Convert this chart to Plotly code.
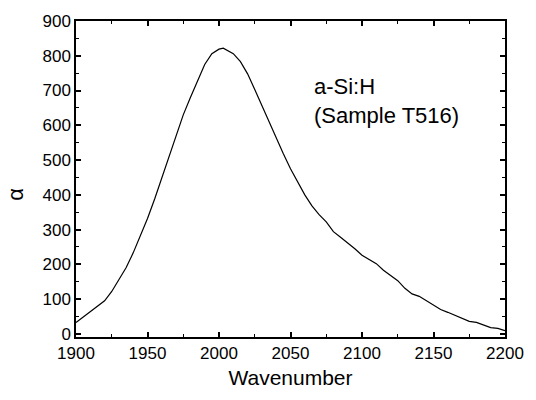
import plotly.graph_objects as go

wavenumber = [1900, 1905, 1910, 1915, 1920, 1925, 1930, 1935, 1940, 1945,
              1950, 1955, 1960, 1965, 1970, 1975, 1980, 1985, 1990, 1995,
              2000, 2003, 2005, 2010, 2015, 2020, 2025, 2030, 2035, 2040,
              2045, 2050, 2055, 2060, 2065, 2070, 2075, 2080, 2085, 2090,
              2095, 2100, 2105, 2110, 2115, 2120, 2125, 2130, 2135, 2140,
              2145, 2150, 2155, 2160, 2165, 2170, 2175, 2180, 2185, 2190,
              2195, 2200]
alpha = [33, 48, 63, 78, 95, 122, 155, 190, 233, 280,
         332, 388, 447, 508, 571, 630, 680, 728, 775, 806,
         819, 822, 818, 806, 783, 748, 703, 656, 607, 560,
         518, 475, 436, 400, 368, 343, 322, 294, 278, 262,
         245, 226, 214, 202, 183, 168, 153, 131, 115, 108,
         95, 82, 70, 62, 53, 44, 36, 33, 25, 18,
         16, 9]

x_ticks = [1900, 1950, 2000, 2050, 2100, 2150, 2200]
y_ticks = [0, 100, 200, 300, 400, 500, 600, 700, 800, 900]

FONT = "Liberation Sans, Arial, sans-serif"

fig = go.Figure()
fig.add_trace(go.Scatter(x=wavenumber, y=alpha, mode="lines",
                         line=dict(color="black", width=1.2),
                         showlegend=False, hoverinfo="skip"))

axis_common = dict(
    showline=True, linecolor="black", linewidth=1.5, mirror="ticks",
    ticks="inside", ticklen=5, tickwidth=1.5, tickcolor="black",
    showgrid=False, zeroline=False,
    tickfont=dict(family=FONT, size=17, color="black"),
)

fig.update_xaxes(range=[1900, 2200], tickvals=x_ticks,
                 minor=dict(ticks="inside", ticklen=3, tickwidth=1.2,
                            tickcolor="black", dtick=25, tick0=1900, showgrid=False),
                 title=dict(text="Wavenumber", font=dict(family=FONT, size=21, color="black"),
                            standoff=8),
                 **axis_common)
fig.update_yaxes(range=[-9, 900], tickvals=y_ticks,
                 minor=dict(ticks="inside", ticklen=3, tickwidth=1.2,
                            tickcolor="black", dtick=50, tick0=0, showgrid=False),
                 **axis_common)

# y-axis title placed as rotated text (sits slightly below the plot centre in the reference)
fig.add_annotation(x=-0.141, y=0.452, xref="paper", yref="paper",
                   xanchor="center", yanchor="middle", textangle=-90,
                   showarrow=False, text="α",
                   font=dict(family=FONT, size=22, color="black"))

fig.add_annotation(x=2065, y=752, xref="x", yref="y", xanchor="left", yanchor="top",
                   align="left", showarrow=False,
                   text="a-Si:H<br>(Sample T516)",
                   font=dict(family=FONT, size=22, color="black"))

fig.update_layout(width=536, height=400,
                  margin=dict(l=76, r=21, t=12, b=63),
                  paper_bgcolor="white", plot_bgcolor="white",
                  font=dict(family=FONT, color="black"))

fig.write_html("out.html")
